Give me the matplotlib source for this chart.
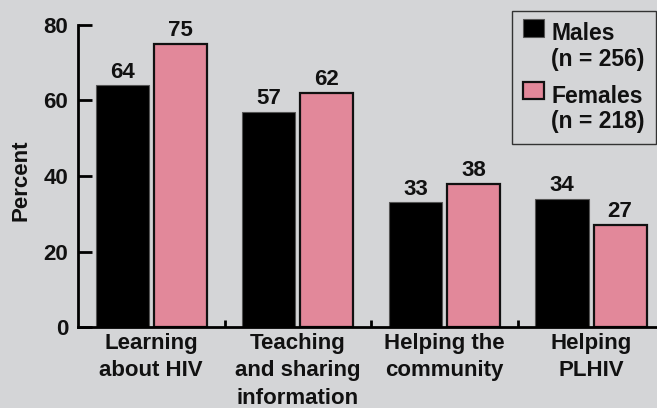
import matplotlib.pyplot as plt
from matplotlib.patches import Rectangle
from matplotlib.legend_handler import HandlerPatch
from matplotlib.container import BarContainer
import numpy as np

plt.rcParams['font.family'] = ['Liberation Sans', 'DejaVu Sans']
plt.rcParams['font.weight'] = 'bold'

bg = '#d4d5d7'
pink = '#e2889a'

categories = ['Learning\nabout HIV', 'Teaching\nand sharing\ninformation',
              'Helping the\ncommunity', 'Helping\nPLHIV']
males = [64, 57, 33, 34]
females = [75, 62, 38, 27]
legend_labels = ['Males\n(n = 256)', 'Females\n(n = 218)']

fs = 16

fig = plt.figure(figsize=(6.57, 4.08), dpi=100, facecolor=bg)
ax = fig.add_axes((78/657, 81/408, 1 - 78/657, 302/408))
ax.set_facecolor(bg)

x = np.arange(len(categories))
w = 0.362
off = 0.198
b1 = ax.bar(x - off, males, w, color='black', edgecolor='#555555', linewidth=0.8,
            label=legend_labels[0])
b2 = ax.bar(x + off, females, w, color=pink, edgecolor='#111111', linewidth=1.6,
            label=legend_labels[1])

for bars, vals in ((b1, males), (b2, females)):
    for r, v in zip(bars, vals):
        ax.text(r.get_x() + r.get_width() / 2, v + 0.7, str(v), ha='center', va='bottom',
                fontsize=fs, fontweight='bold', color='#111111', clip_on=False)

ax.set_xlim(-0.5, 3.45)
ax.set_ylim(0, 80)
ax.set_yticks([0, 20, 40, 60, 80])
ax.set_xticks(x)
ax.set_xticklabels(categories, fontsize=fs, fontweight='bold', color='#111111',
                   linespacing=1.42)
ax.set_xticks([0.5, 1.5, 2.5], minor=True)
ax.tick_params(axis='x', which='major', length=0, pad=4)
ax.tick_params(axis='x', which='minor', direction='in', length=5, width=2)
ax.tick_params(axis='y', direction='in', length=10, width=2, pad=7,
               labelsize=fs, labelcolor='#111111')
for t in ax.get_yticklabels():
    t.set_fontweight('bold')

ax.spines['top'].set_visible(False)
ax.spines['right'].set_visible(False)
ax.spines['left'].set_linewidth(2)
ax.spines['bottom'].set_linewidth(2)
ax.spines['left'].set_bounds(0, 80)

ax.set_ylabel('Percent', fontsize=fs, fontweight='bold', color='#111111')
ax.yaxis.set_label_coords(-0.08, 0.487)


# legend square sits beside the first line of the two-line label
def top_patch(legend, orig_handle, xdescent, ydescent, width, height, fontsize):
    return Rectangle((-xdescent, -ydescent + 0.85 * fontsize), width, height)


def from_first_bar(legend_handle, orig_handle):
    legend_handle.update_from(orig_handle[0])


leg = ax.legend(loc='upper left', bbox_to_anchor=(512/657, 1 - 11/408),
                bbox_transform=fig.transFigure, borderaxespad=0,
                prop={'weight': 'bold', 'size': 16.5}, handlelength=0.9, handleheight=0.8,
                handletextpad=0.32, labelspacing=0.62, borderpad=0.5,
                fancybox=False, framealpha=1, facecolor=bg, edgecolor='#333333',
                handler_map={BarContainer: HandlerPatch(patch_func=top_patch,
                                                        update_func=from_first_bar)})
leg.get_frame().set_linewidth(1)
for t in leg.get_texts():
    t.set_color('#111111')
    t.set_linespacing(1.12)

fig.savefig('out.png', dpi=100, facecolor=bg)
